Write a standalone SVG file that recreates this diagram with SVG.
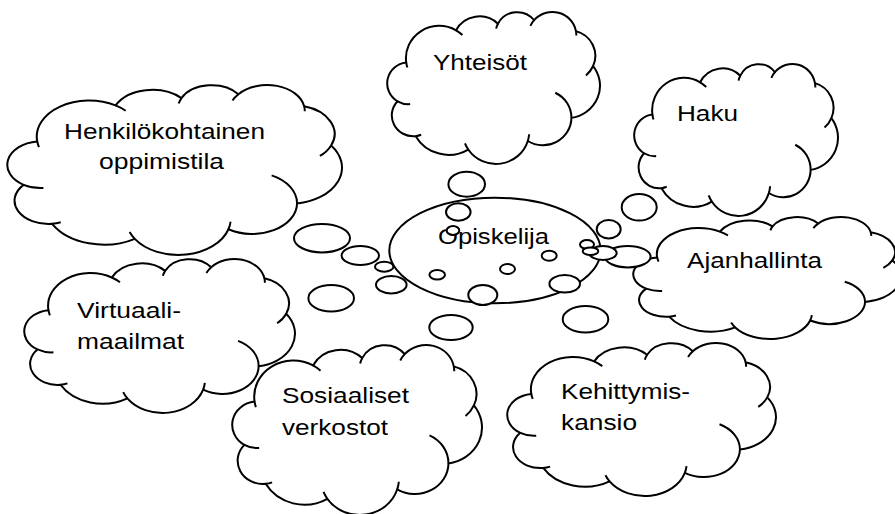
<svg xmlns="http://www.w3.org/2000/svg" xmlns:xlink="http://www.w3.org/1999/xlink" width="895" height="514" viewBox="0 0 895 514">
  <defs>
    <style>
      .cloud-body { fill: #ffffff; stroke: #000000; stroke-width: 2; vector-effect: non-scaling-stroke; stroke-linejoin: round; }
      .cloud-fold { fill: none; stroke: #000000; stroke-width: 2; vector-effect: non-scaling-stroke; stroke-linecap: butt; }
      .bubble { fill: #ffffff; stroke: #000000; stroke-width: 2; }
      .label { font-family: "Liberation Sans", Arial, sans-serif; font-size: 22px; fill: #000000; }
    </style>
    <!-- Cloud outline in a 43200 x 43200 unit box, plus the inner fold strokes -->
    <g id="cloud-shape">
      <path class="cloud-body" d="M3900 14370 A6753 9190 0 0 1 14000 5192 A5333 7267 0 0 1 22500 3330 A4365 5945 0 0 1 29839 2330 A4857 6595 0 0 1 38324 5426 A5333 7273 0 0 1 41798 15354 A6775 9220 0 0 1 37405 30090 A5785 7867 0 0 1 28556 36661 A6752 9215 0 0 1 16478 39090 A7720 10543 0 0 1 5819 35281 A4360 5918 0 0 1 2140 25370 A4345 5945 0 0 1 3900 14370 Z"/>
      <path class="cloud-fold" d="M4693 26177 A4345 5945 0 0 1 2140 25370 M6928 34899 A4360 5918 0 0 1 5819 35281 M16478 39090 A6752 9215 0 0 1 15813 37350 M28827 34751 A6752 9215 0 0 1 28556 36661 M34129 22954 A5785 7867 0 0 1 37405 30090 M41798 15354 A5333 7273 0 0 1 40351 18029 M38324 5426 A4857 6595 0 0 1 38400 6690 M29078 3952 A4857 6595 0 0 1 29839 2330 M22141 4720 A4365 5945 0 0 1 22500 3330 M14000 5192 A6753 9190 0 0 1 15300 6540 M4127 15789 A6753 9190 0 0 1 3900 14370"/>
    </g>
  </defs>

  <rect width="895" height="514" fill="#ffffff"/>

  <g id="node-henkilokohtainen">
    <use xlink:href="#cloud-shape" href="#cloud-shape" transform="translate(7 85) scale(0.0077546 0.0039352)"/>
    <text class="label" x="64" y="138.5" textLength="201" lengthAdjust="spacingAndGlyphs">Henkilökohtainen</text>
    <text class="label" x="99" y="169" textLength="125" lengthAdjust="spacingAndGlyphs">oppimistila</text>
  </g>

  <g id="node-yhteisot">
    <use xlink:href="#cloud-shape" href="#cloud-shape" transform="translate(387 12) scale(0.0049306 0.0035185)"/>
    <text class="label" x="433" y="70" textLength="94" lengthAdjust="spacingAndGlyphs">Yhteisöt</text>
  </g>

  <g id="node-haku">
    <use xlink:href="#cloud-shape" href="#cloud-shape" transform="translate(634 64) scale(0.0047222 0.0035185)"/>
    <text class="label" x="677" y="120.7" textLength="61" lengthAdjust="spacingAndGlyphs">Haku</text>
  </g>

  <g id="node-ajanhallinta">
    <use xlink:href="#cloud-shape" href="#cloud-shape" transform="translate(633 217) scale(0.0062037 0.0028241)"/>
    <text class="label" x="687" y="268.3" textLength="135" lengthAdjust="spacingAndGlyphs">Ajanhallinta</text>
  </g>

  <g id="node-virtuaalimaailmat">
    <use xlink:href="#cloud-shape" href="#cloud-shape" transform="translate(24 259) scale(0.0062731 0.0035648)"/>
    <text class="label" x="77" y="318.3" textLength="104" lengthAdjust="spacingAndGlyphs">Virtuaali-</text>
    <text class="label" x="77" y="349.3" textLength="107" lengthAdjust="spacingAndGlyphs">maailmat</text>
  </g>

  <g id="node-sosiaaliset-verkostot">
    <use xlink:href="#cloud-shape" href="#cloud-shape" transform="translate(232 345) scale(0.0057870 0.0039352)"/>
    <text class="label" x="282" y="403" textLength="127" lengthAdjust="spacingAndGlyphs">Sosiaaliset</text>
    <text class="label" x="282" y="434.5" textLength="106" lengthAdjust="spacingAndGlyphs">verkostot</text>
  </g>

  <g id="node-kehittymiskansio">
    <use xlink:href="#cloud-shape" href="#cloud-shape" transform="translate(507 343) scale(0.0062269 0.0035417)"/>
    <text class="label" x="561" y="399.3" textLength="129" lengthAdjust="spacingAndGlyphs">Kehittymis-</text>
    <text class="label" x="561" y="430" textLength="76" lengthAdjust="spacingAndGlyphs">kansio</text>
  </g>

  <g id="node-opiskelija">
    <ellipse cx="495" cy="250.5" rx="105.7" ry="52.8" fill="#ffffff" stroke="#000000" stroke-width="2"/>
    <text class="label" x="438" y="244" textLength="111" lengthAdjust="spacingAndGlyphs">Opiskelija</text>
  </g>

  <!-- thought-bubble trails linking the centre to each cloud -->
  <g id="connectors">
    <ellipse class="bubble" cx="466.7" cy="184.2" rx="18.3" ry="12.5"/>
    <ellipse class="bubble" cx="458.3" cy="212" rx="12.3" ry="8.7"/>
    <ellipse class="bubble" cx="453" cy="230.5" rx="6.3" ry="4.5"/>
    <ellipse class="bubble" cx="322" cy="238.2" rx="28" ry="14.2"/>
    <ellipse class="bubble" cx="360.3" cy="255.5" rx="18.7" ry="9.5"/>
    <ellipse class="bubble" cx="384.2" cy="266.7" rx="9.2" ry="5"/>
    <ellipse class="bubble" cx="391.3" cy="284.7" rx="15.3" ry="8.7"/>
    <ellipse class="bubble" cx="331.2" cy="298.3" rx="22.8" ry="13.3"/>
    <ellipse class="bubble" cx="437.2" cy="274.7" rx="7.8" ry="4.7"/>
    <ellipse class="bubble" cx="507.5" cy="269" rx="7.5" ry="5"/>
    <ellipse class="bubble" cx="549.2" cy="255.7" rx="7.5" ry="5"/>
    <ellipse class="bubble" cx="482.8" cy="295" rx="14.5" ry="10"/>
    <ellipse class="bubble" cx="564.7" cy="283.8" rx="15.3" ry="8.8"/>
    <ellipse class="bubble" cx="451" cy="327.5" rx="21.7" ry="12.5"/>
    <ellipse class="bubble" cx="585.5" cy="319.3" rx="22.8" ry="13.3"/>
    <ellipse class="bubble" cx="627.8" cy="256.7" rx="22.8" ry="10.7"/>
    <ellipse class="bubble" cx="603" cy="253" rx="13.7" ry="7"/>
    <ellipse class="bubble" cx="587" cy="244.5" rx="7" ry="4.5"/>
    <ellipse class="bubble" cx="590.5" cy="251.2" rx="7.8" ry="3.8"/>
    <ellipse class="bubble" cx="608.7" cy="229.2" rx="12" ry="9.2"/>
    <ellipse class="bubble" cx="639.2" cy="207.3" rx="17.5" ry="13.3"/>
  </g>
</svg>
